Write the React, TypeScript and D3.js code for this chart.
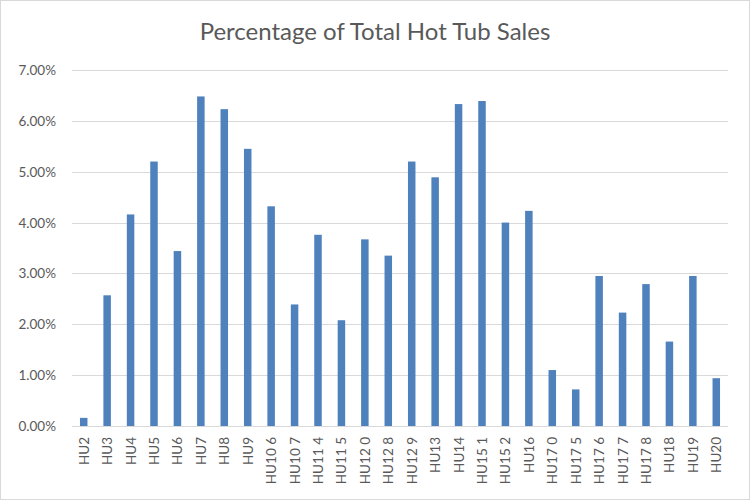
import { scaleBand, scaleLinear, range } from "d3";

const categories = [
  "HU2", "HU3", "HU4", "HU5", "HU6", "HU7", "HU8", "HU9", "HU10 6", "HU10 7",
  "HU11 4", "HU11 5", "HU12 0", "HU12 8", "HU12 9", "HU13", "HU14", "HU15 1", "HU15 2", "HU16",
  "HU17 0", "HU17 5", "HU17 6", "HU17 7", "HU17 8", "HU18", "HU19", "HU20",
];

// share of total sales, in percent
const shares = [
  0.16, 2.57, 4.16, 5.2, 3.44, 6.48, 6.23, 5.45, 4.32, 2.39,
  3.76, 2.08, 3.67, 3.35, 5.2, 4.89, 6.33, 6.39, 4.0, 4.23,
  1.1, 0.72, 2.95, 2.23, 2.79, 1.66, 2.95, 0.94,
];

const yTicks = range(0, 8);

export default function App() {
  const width = 750;
  const height = 500;
  const margin = { top: 70, right: 22, bottom: 74, left: 72 };
  const innerWidth = width - margin.left - margin.right;
  const innerHeight = height - margin.top - margin.bottom;

  const x = scaleBand<string>().domain(categories).range([0, innerWidth]).paddingInner(0.68).paddingOuter(0.34);
  const y = scaleLinear().domain([0, 7]).range([innerHeight, 0]);
  const font = "Lato, 'Open Sans', sans-serif";

  return (
    <svg width={width} height={height} style={{ position: "absolute", left: 0, top: 0, background: "#fff" }} fontFamily={font}>
      <rect x={0.5} y={0.5} width={width - 1} height={height - 1} fill="#fff" stroke="#d9d9d9" />
      <text x={width / 2} y={40} textAnchor="middle" fontSize={24} fill="#595959">
        Percentage of Total Hot Tub Sales
      </text>
      <g transform={`translate(${margin.left}, ${margin.top})`}>
        {yTicks.map((tick) => (
          <g key={tick}>
            <line x1={0} x2={innerWidth} y1={Math.round(y(tick)) + 0.5} y2={Math.round(y(tick)) + 0.5} stroke="#d9d9d9" strokeWidth={1} />
            <text x={-16} y={y(tick) + 5} textAnchor="end" fontSize={13.5} fill="#595959">
              {tick.toFixed(2)}%
            </text>
          </g>
        ))}
        {categories.map((cat, i) => {
          const bx = x(cat) ?? 0;
          const top = y(shares[i]);
          return <rect key={cat} x={bx} y={top} width={x.bandwidth()} height={innerHeight - top} fill="#4f81bd" />;
        })}
        {categories.map((cat) => {
          const cx = (x(cat) ?? 0) + x.bandwidth() / 2;
          return (
            <text key={cat} transform={`translate(${cx + 5}, ${innerHeight + 11}) rotate(-90)`} textAnchor="end" fontSize={13.5} fill="#595959">
              {cat}
            </text>
          );
        })}
      </g>
    </svg>
  );
}
